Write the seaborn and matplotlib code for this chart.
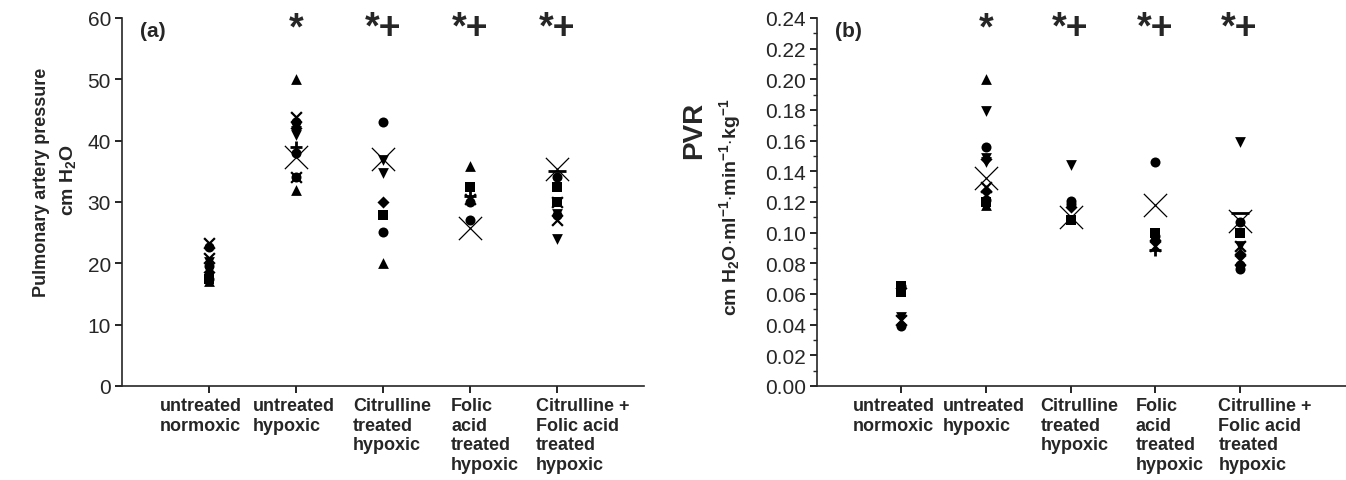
import numpy as np
import pandas as pd
import matplotlib
matplotlib.use("Agg")
import matplotlib.pyplot as plt
import matplotlib.transforms as mtransforms
from matplotlib.ticker import MultipleLocator
import seaborn as sns

# ---------------- data ----------------
groups = ["untreated\nnormoxic", "untreated\nhypoxic", "Citrulline\ntreated\nhypoxic",
          "Folic\nacid\ntreated\nhypoxic", "Citrulline +\nFolic acid\ntreated\nhypoxic"]

pap_values = [
    [22.7, 23.3, 20.9, 20.2, 19.6, 18.6, 17.5, 17.4, 17.1],
    [50.0, 43.8, 43.0, 42.0, 41.6, 41.0, 39.0, 38.0, 37.4, 34.0, 34.0, 32.0],
    [43.0, 37.0, 36.8, 34.8, 30.0, 27.9, 25.1, 20.0],
    [35.9, 32.4, 31.0, 30.5, 30.0, 27.1, 25.7],
    [35.4, 35.0, 34.0, 32.4, 30.0, 30.0, 28.0, 27.8, 27.1, 23.9],
]
pap_shapes = [
    ["circle", "cross", "cross", "down", "circle", "diamond", "square", "circle", "up"],
    ["up", "cross", "circle", "diamond", "down", "down", "plus", "circle", "mean", "cross", "circle", "up"],
    ["circle", "mean", "down", "down", "diamond", "square", "circle", "up"],
    ["up", "square", "plus", "cross", "circle", "circle", "mean"],
    ["mean", "dash", "circle", "square", "cross", "square", "down", "circle", "cross", "down"],
]

pvr_values = [
    [0.0655, 0.065, 0.064, 0.061, 0.045, 0.043, 0.039],
    [0.200, 0.1795, 0.156, 0.149, 0.148, 0.146, 0.1357, 0.130, 0.127, 0.121, 0.120, 0.118],
    [0.144, 0.1205, 0.119, 0.117, 0.110, 0.108],
    [0.146, 0.118, 0.100, 0.098, 0.095, 0.0915, 0.089],
    [0.159, 0.113, 0.1075, 0.107, 0.100, 0.0915, 0.091, 0.086, 0.082, 0.079, 0.0765],
]
pvr_shapes = [
    ["circle", "square", "diamond", "square", "down", "cross", "circle"],
    ["up", "down", "circle", "down", "diamond", "down", "mean", "cross", "diamond", "circle", "square", "up"],
    ["down", "circle", "circle", "diamond", "mean", "square"],
    ["circle", "mean", "square", "circle", "diamond", "cross", "plus"],
    ["down", "dash", "mean", "circle", "square", "down", "cross", "diamond", "cross", "circle", "circle"],
]

significance = ["", "*", "*+", "*+", "*+"]

# ---------------- styling ----------------
sns.set_style("ticks")
plt.rcParams["font.family"] = ["Liberation Sans", "DejaVu Sans"]
plt.rcParams["mathtext.fontset"] = "custom"
plt.rcParams["mathtext.rm"] = "Liberation Sans:bold"
plt.rcParams["mathtext.bf"] = "Liberation Sans:bold"
plt.rcParams["mathtext.default"] = "bf"

marker_styles = {
    "circle":  dict(marker="o", s=52, linewidth=0),
    "square":  dict(marker="s", s=44, linewidth=0),
    "up":      dict(marker="^", s=60, linewidth=0),
    "down":    dict(marker="v", s=60, linewidth=0),
    "diamond": dict(marker="D", s=38, linewidth=0),
    "cross":   dict(marker="x", s=60, linewidth=1.6),
    "mean":    dict(marker="x", s=280, linewidth=0.9),
    "plus":    dict(marker="+", s=80, linewidth=2.0),
    "dash":    dict(marker="_", s=160, linewidth=2.0),
}


def make_df(values, shapes):
    rows = []
    for i, (vals, shps) in enumerate(zip(values, shapes)):
        for v, s in zip(vals, shps):
            rows.append({"pos": i + 1, "value": v, "shape": s})
    return pd.DataFrame(rows)


fig = plt.figure(figsize=(13.46, 4.81), dpi=100)
W, H = 1346, 481
ax_a = fig.add_axes([122 / W, 1 - 387 / H, (644 - 122) / W, (387 - 19) / H])
ax_b = fig.add_axes([817 / W, 1 - 387 / H, (1346 - 817) / W, (387 - 19) / H])

label_offsets_px = [-49, -43, -30, -19, -21]


def draw_panel(ax, df, ylim, yticks, fmt, panel_label, xmax):
    for shape, st in marker_styles.items():
        sub = df[df["shape"] == shape]
        if sub.empty:
            continue
        sns.scatterplot(data=sub, x="pos", y="value", ax=ax, color="black",
                        edgecolor="black", legend=False, zorder=3, **st)
    ax.set_xlim(0, xmax)
    ax.set_ylim(*ylim)
    ax.set_yticks(yticks)
    ax.set_yticklabels([fmt.format(t) for t in yticks], fontsize=15)
    ax.set_xticks(range(1, len(groups) + 1))
    ax.set_xticklabels([""] * len(groups))
    for i, (g, off) in enumerate(zip(groups, label_offsets_px)):
        tr = ax.get_xaxis_transform() + mtransforms.ScaledTranslation(
            off / 100, -11 / 100, fig.dpi_scale_trans)
        ax.text(i + 1, 0, g, transform=tr, fontsize=13, fontweight="bold",
                ha="left", va="top", multialignment="left", linespacing=1.2)
    ax.set_xlabel("")
    ax.set_ylabel("")
    sns.despine(ax=ax)
    for sp in ("left", "bottom"):
        ax.spines[sp].set_linewidth(1.2)
    ax.tick_params(axis="both", direction="out", length=5, width=1.2, color="black")
    ax.tick_params(axis="y", pad=3)
    ax.text(0.034, 0.965, panel_label, transform=ax.transAxes, fontsize=15,
            fontweight="bold", ha="left", va="center")
    for i, mark in enumerate(significance):
        if mark:
            ax.text(i + 1, 0.945, mark, transform=ax.get_xaxis_transform(),
                    fontsize=27, fontweight="bold", ha="center", va="baseline")


df_a = make_df(pap_values, pap_shapes)
df_b = make_df(pvr_values, pvr_shapes)

draw_panel(ax_a, df_a, (0, 60), np.arange(0, 61, 10), "{:.0f}", "(a)", 6)
draw_panel(ax_b, df_b, (0, 0.24), np.round(np.arange(0, 0.2401, 0.02), 2), "{:.2f}", "(b)",
           (1346 - 817) / 84.5)
ax_b.yaxis.set_minor_locator(MultipleLocator(0.01))
ax_b.tick_params(axis="y", which="minor", length=3, width=1.0, direction="out")

# y-axis titles
fig.text(42 / W, 1 - 182 / H, "Pulmonary artery pressure", rotation=90,
         fontsize=13, fontweight="bold", ha="center", va="center")
fig.text(68 / W, 1 - 180 / H, r"cm H$_2$O", rotation=90,
         fontsize=14, fontweight="bold", ha="center", va="center")
fig.text(694 / W, 1 - 130 / H, "PVR", rotation=90,
         fontsize=20, fontweight="bold", ha="center", va="center")
fig.text(730 / W, 1 - 207 / H,
         r"cm H$_2$O$\cdot$ml$^{-1}$$\cdot$min$^{-1}$$\cdot$kg$^{-1}$",
         rotation=90, fontsize=14, fontweight="bold", ha="center", va="center")

fig.savefig("out.png", dpi=100)
